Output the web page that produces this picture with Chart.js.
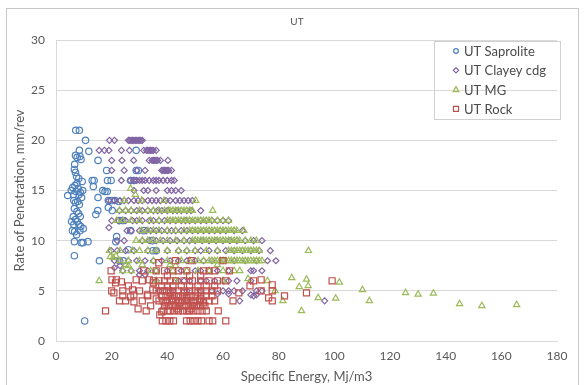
<!DOCTYPE html>
<html>
<head>
<meta charset="utf-8">
<script src="https://cdn.jsdelivr.net/npm/chart.js@4/dist/chart.umd.min.js"></script>
<style>
  body { margin: 0; background: #fff; }
  #wrap { width: 585px; height: 385px; }
</style>
</head>
<body>
<div id="wrap"><canvas id="chart" width="585" height="385"></canvas></div>
<script>
// series names and tick setup
const seriesNames = ['UT Saprolite', 'UT Clayey cdg', 'UT MG', 'UT Rock'];
const seriesColors = ['#4F81BD', '#8064A2', '#9BBB59', '#C0504D'];
const xTicks = [0, 20, 40, 60, 80, 100, 120, 140, 160, 180];
const yTicks = [0, 5, 10, 15, 20, 25, 30];

// [specific energy, rate of penetration]
const saprolite = [
  [7.1,21],[8.4,21],[10.6,20],[11.8,18.9],[8.4,19],[7,18.5],[7.6,18.3],[8.6,18.4],[9,18.1],[15.1,18],
  [18.2,17],[6.7,17.6],[6.6,17.1],[7,16.8],[7.4,16.4],[8.2,16.2],[9.4,15.9],[13,16],[13.7,16],[18.5,16],
  [19.8,16],[13.4,15.4],[16.8,15],[17.6,14.9],[18.4,14.9],[15.1,14.3],[4.2,14.5],[5.5,15],[6,15.3],[6.3,14.6],
  [6.8,15.5],[7.2,14.9],[7.5,15.7],[8,15.2],[8.3,14.6],[8.8,14.8],[9.6,15],[9.2,14.3],[6.4,14],[7,13.8],
  [7.8,13.9],[8.4,13.6],[6.6,13.2],[7.5,12.9],[8.1,12.7],[6.2,12.4],[8.7,12.4],[7,12.1],[5.6,11.9],[6.4,11.6],
  [7.6,11.9],[8.2,11.6],[8.9,11.4],[9.8,11.2],[5.9,11],[6.7,10.9],[7.4,10.6],[8.6,11],[6.6,9.9],[9.1,9.8],
  [9.7,9.8],[11.5,9.9],[6.6,8.5],[15.6,8],[10.3,2],[18.8,14],[20,14],[21.2,14],[22.6,13.9],[15,13],
  [14.3,12.6],[18.8,13.3],[20.2,13],[22.8,12],[24,12],[26.8,11],[21.8,10.4],[21.5,9.9],[26,9.1],[22.8,8],
  [24.2,8],[34.8,9],[36,9],[28.8,19],[26.8,16],[28,16],[28.8,17],[29.6,17],[31.5,11],[34.6,10]
];

const clayey = [
  [19.2,20],[21,20],[26,20],[26.5,20],[27,20],[27.5,20],[28,20],[28.5,20],[29,20],[29.5,20],[30,20],[30.5,20],[31,20],
  [15.5,19],[17.4,19],[19,19],[23.5,19],[26.4,19],[31.5,19],[32.5,19],[33,19],[33.5,19],[34,19],[34.5,19],[35,19],[36,19],
  [20,18],[23.7,18],[27.9,18],[33.5,18],[34.5,18],[35,18],[35.5,18],[36,18],[36.5,18],[37.5,18],[40.2,18],
  [20,17],[24.5,17],[29,17],[32,17],[38,17],[38.5,17],[39,17],[39.5,17],[40,17],[40.5,17],[41.5,17],
  [23.5,16],[26.7,16],[28,16],[29,16],[30,16],[31,16],[32,16],[33.5,16],[35,16],[36,16],[37,16],[38.5,16],[40,16],[41.5,16],[42.5,16],
  [28,15],[31.5,15],[33,15],[36,15],[40,15],[41.5,15],[43,15],[45,15],
  [19,14],[21,14],[23,14],[24.5,14],[26,14],[28,14],[29.5,14],[31,14],[33,14],[34.5,14],[36,14],[37.5,14],[39.5,14],[41,14],[43,14],[44.5,14],[46,14],[47.5,14],[49,14],
  [22.8,13],[25,13],[27,13],[29,13],[31,13],[33,13],[35,13],[36.5,13],[38,13],[40,13],[42,13],[43.5,13],[45,13],[47,13],[48.5,13],[52,13],
  [20,12],[22.5,12],[25,12],[27.5,12],[29,12],[31,12],[33.5,12],[35,12],[37,12],[39,12],[41,12],[43,12],[45,12],[46.5,12],[48,12],[50,12],[52,12],[54,12],[56,12],[58,12],[60,12],[62,12],
  [19,11.3],[25.5,11],[27,11],[30,11],[32.5,11],[34,11],[36,11],[38,11],[40,11],[41.5,11],[43,11],[45,11],[47,11],[49,11],[51,11],[53,11],[55,11],[57,11],[59,11],[61,11],[64,11],[67,11],
  [22,10],[24.5,10],[31,10],[33.5,10],[36,10],[38.5,10],[41,10],[43.5,10],[46,10],[48,10],[50,10],[52.5,10],[55,10],[57.5,10],[60,10],[62.5,10],[65,10],[68,10],[71,10],[74,10],
  [19.8,9],[22,9],[25,9],[28,9],[33,9],[36,9],[40,9],[44,9],[47,9],[50,9],[52,9],[55,9],[58,9],[61,9],[64,9],[67,9],[70,9],[73,9],[77,9],
  [21,8],[23,8],[26,8],[29,8],[32,8],[35,8],[38,8],[41,8],[44,8],[47,8],[50,8],[53,8],[56,8],[60,8],[64,8],[68,8],[72,8],[76,8],[79,8],
  [21,7.3],[23,7.5],[24,7],[27,7],[30,7],[33,7],[36,7],[40,7],[45,7],[50,7],[52,7],[55,7],[58,7],[62,7],[70,7],[71,7],[74,7],
  [30,6.6],[32,6.6],[36,6],[44,6],[46,6],[48,6],[52,6],[54,6],[57,6],[60,6],[62,6],[65,6],[70,6],
  [37,5],[42,5],[47,5],[52,5],[56,5],[60,5],[62,5],[64,5],[67,5],[72,5],[74,5],
  [58,4.7],[62,4.7],[70,4.6],[71,4.5],[72,4.6],[47,4],[66,4],[96.5,4]
];

const mg = [
  [26.8,15.2],[28.5,14.6],[24.5,14],[30.8,14],[38.8,14],[50.2,14],
  [22.8,13],[25,13],[27,13],[30,13],[33,13],[35,13],[37,13],[39,13],[40.5,13],[41,13],[42,13],[43,13],[44,13],[45,13],[46,13],[47,13],[48,13],[49,13],[56.3,13],
  [21.8,12],[24,12],[27,12],[30,12],[34,12],[37,12],[40,12],[41,12],[42,12],[43,12],[44,12],[45,12],[46,12],[47,12],[48,12],[49,12],[50,12],[51,12],[52,12],[53,12],[54,12],[55,12],[56,12],[58,12],[60,12],[62,12],
  [30.8,11],[33,11],[35,11],[37,11],[40,11],[43,11],[46,11],[48,11],[49,11],[50,11],[51,11],[52,11],[53,11],[54,11],[55,11],[56,11],[57,11],[58,11],[59,11],[60,11],[61,11],[62,11],[63,11],[64,11],[65,11],[67.5,11],
  [28.8,10],[31,10],[33,10],[35,10],[37.5,10],[40,10],[43,10],[46,10],[49,10],[50,10],[51,10],[52,10],[53,10],[54,10],[55,10],[56,10],[57,10],[58,10],[59,10],[60,10],[61,10],[62,10],[63,10],[64,10],[65,10],[66,10],[68,10],[70,10],[72,10],
  [19.2,9],[23,9],[27.5,9],[30,9],[33,9],[36,9],[40,9],[44,9],[47,9],[50,9],[54,9],[58,9],[62,9],[63,9],[64,9],[65,9],[66,9],[67,9],[68,9],[69,9],[70,9],[71,9],[72,9],[73,9],[90.7,9],
  [19.5,8.4],[20.5,8.3],[21.5,8.5],
  [23,8],[26,8],[30,8],[35,8],[40,8],[45,8],[48,8],[51,8],[53,8],[55,8],[56,8],[57,8],[58,8],[59,8],[60,8],[61,8],[62,8],[63,8],[64,8],[65,8],[66,8],[67,8],[68,8],[69,8],[70,8],[71,8],[72,8],[73,8],[74,8],
  [25,7.6],[26,7.5],[31,7.6],[41,7.6],[43,7.5],[58,7.6],
  [24,7],[27,7],[34,7],[36,7],[42,7],[47,7],[51,7],[55,7],[60,7],[64,7],[66,7],
  [15.5,6],[36,6],[43,6],[60,6],[69,6.2],[76,6],[84.7,6.3],[90,6.15],
  [78.7,5],[87.4,5.4],[90.6,5.5],[101.8,5.85],[110.1,5.1],[112.6,4],[94.2,4.3],[100.5,4.25],[88.2,3],[81.5,4],
  [125.6,4.8],[130.1,4.65],[135.6,4.75],[145,3.7],[153,3.5],[165.5,3.6]
];

const rock = [
  [17.8,3],[19.8,7],[20.1,6.1],[21.7,6.1],[20,5],[20.8,4.8],[21.4,5.8],[23.5,5.9],[22.8,4],[25,4],
  [24,5],[27.5,5.1],[26.8,4.4],[28,3.9],[29.5,3.2],[28.8,6.1],[31.5,7],[32.4,3],[32.8,4.6],[33.5,6.1],
  [34.8,5.1],[36.9,7.8],[37.3,2.6],[38.2,2],[39.5,2],[40.9,2],[42.2,2],[46.9,2],[48.2,2],[49.6,2],
  [51,2],[52.3,2],[55,2],[56.3,2],[61,2],[48.6,8],[42.9,8],[36,7],[39,7],[42,7],
  [44,7],[53,7],[55,7],[57,7],[60,8],[62.3,7],[73.7,6.1],[71,6],[77.7,5.6],[77.7,5],
  [73.7,5],[76.4,4.3],[77.7,4],[82.1,4.5],[90,4.8],[99.2,6],[69.7,5.5],[65.7,4.8],[63.6,4],[58.3,3],
  [30,5],[31,4],[33,4.5],[34,3.5],[31,6],[26,5.5],[24,4.5],[28,4.6],[35,5.8],[36,4.2],[38,2.9],
  [38.5,3],[40,3],[41,3],[42.5,3],[44,3],[45.5,3],[47,3],[48,3],[49.5,3],[51,3],[52.5,3],[54,3],
  [39,3.5],[40.5,3.5],[42,3.5],[43,3.5],[44.5,3.5],[46,3.5],[47.5,3.5],[49,3.5],[50.5,3.5],[52,3.5],[53.5,3.5],
  [37,4],[38.5,4],[40,4],[41.5,4],[43,4],[44,4],[45.5,4],[47,4],[48.5,4],[50,4],[51.5,4],[53,4],[55,4],[57,4],
  [38,4.5],[39.5,4.5],[41,4.5],[42.5,4.5],[44,4.5],[45.5,4.5],[47,4.5],[48.5,4.5],[50,4.5],[52,4.5],[54,4.5],[56,4.5],
  [36,5],[37.5,5],[39,5],[40.5,5],[42,5],[44,5],[46,5],[48,5],[50,5],[52,5],[54,5],[56,5],[58,5],
  [38,5.5],[40,5.5],[42,5.5],[45,5.5],[48,5.5],[51,5.5],[54,5.5],[57,5.5],
  [35,6],[37,6],[39,6],[41,6],[43,6],[46,6],[49,6],[52,6],[55,6],[58,6],[61,6],
  [40,6.5],[48,6.5],[52,6.5],[47,7],
  [39.5,3.8],[42,4.2],[44.5,3.8],[47,4.3],[49.5,3.8],[52,4.2],[41,4.8],[46,4.8],[51,4.8],[43.5,3.2],[48.5,3.2],[53,3.8]
];

const seriesData = [saprolite, clayey, mg, rock];
const pointStyles = ['circle', 'rectRot', 'triangle', 'rect'];
const pointSizes = [3.2, 3, 3.6, 4.3];

const greyText = '#595959';
const gridColor = '#D9D9D9';

// white background, outer frame and title
const framePlugin = {
  id: 'frame',
  beforeDraw(chart) {
    const ctx = chart.ctx;
    ctx.save();
    ctx.fillStyle = '#fff';
    ctx.fillRect(0, 0, chart.width, chart.height);
    ctx.restore();
  },
  afterDraw(chart) {
    const ctx = chart.ctx;
    ctx.save();
    ctx.strokeStyle = '#C8C8C8';
    ctx.lineWidth = 1;
    ctx.strokeRect(6.5, 8.5, 572, 400);
    ctx.fillStyle = greyText;
    ctx.font = '10px Lato';
    ctx.textAlign = 'center';
    ctx.textBaseline = 'middle';
    ctx.fillText('UT', 297, 22);
    ctx.restore();
  }
};

// legend box inside the plot, top right
const legendBox = {
  id: 'legendBox',
  afterDatasetsDraw(chart) {
    const ctx = chart.ctx;
    const x0 = 434, y0 = 41, w = 126, h = 78;
    ctx.save();
    ctx.strokeStyle = '#D0D0D0';
    ctx.lineWidth = 1;
    ctx.strokeRect(x0 + 0.5, y0 + 0.5, w, h);
    ctx.font = '13px Lato';
    ctx.textBaseline = 'middle';
    seriesNames.forEach((name, i) => {
      const y = 51 + i * 19.3;
      const mx = 456;
      ctx.strokeStyle = seriesColors[i];
      ctx.lineWidth = 1.2;
      ctx.beginPath();
      if (i === 0) {
        ctx.arc(mx, y, 2.4, 0, Math.PI * 2);
      } else if (i === 1) {
        ctx.moveTo(mx, y - 2.6); ctx.lineTo(mx + 2.6, y); ctx.lineTo(mx, y + 2.6); ctx.lineTo(mx - 2.6, y); ctx.closePath();
      } else if (i === 2) {
        ctx.moveTo(mx, y - 3); ctx.lineTo(mx + 2.8, y + 2); ctx.lineTo(mx - 2.8, y + 2); ctx.closePath();
      } else {
        ctx.rect(mx - 2.5, y - 2.5, 5, 5);
      }
      ctx.stroke();
      ctx.fillStyle = '#4A4A4A';
      ctx.fillText(name, 464, y + 1);
    });
    ctx.restore();
  }
};

const datasets = seriesData.map((pts, i) => ({
  label: seriesNames[i],
  data: pts.map(p => ({ x: p[0], y: p[1] })),
  pointStyle: pointStyles[i],
  radius: pointSizes[i],
  borderColor: seriesColors[i],
  backgroundColor: 'rgba(255,255,255,0)',
  borderWidth: 1.2,
  order: 4 - i
}));

new Chart(document.getElementById('chart'), {
  type: 'scatter',
  data: { datasets: datasets },
  options: {
    responsive: false,
    animation: false,
    events: [],
    layout: { padding: { left: 0, right: 28, top: 40, bottom: 0 } },
    plugins: {
      legend: { display: false },
      title: { display: false },
      tooltip: { enabled: false }
    },
    scales: {
      x: {
        type: 'linear',
        min: 0,
        max: 180,
        afterBuildTicks: (scale) => { scale.ticks = xTicks.map(v => ({ value: v })); },
        afterFit: (scale) => { scale.height = 44; },
        grid: { display: false, drawTicks: false },
        border: { display: true, color: gridColor, width: 1 },
        ticks: { color: greyText, font: { family: 'Lato', size: 12 }, padding: 8, maxRotation: 0 },
        title: {
          display: true,
          text: 'Specific Energy, Mj/m3',
          color: greyText,
          font: { family: 'Lato', size: 13 },
          padding: { top: 0, bottom: 0 }
        }
      },
      y: {
        type: 'linear',
        min: 0,
        max: 30,
        afterBuildTicks: (scale) => { scale.ticks = yTicks.map(v => ({ value: v })); },
        afterFit: (scale) => { scale.width = 56; },
        grid: { color: gridColor, drawTicks: false },
        border: { display: true, color: gridColor, width: 1 },
        ticks: { color: greyText, font: { family: 'Lato', size: 12 }, padding: 11 },
        title: {
          display: true,
          text: 'Rate of Penetration, mm/rev',
          color: greyText,
          font: { family: 'Lato', size: 13 },
          padding: { top: 12, bottom: 0 }
        }
      }
    }
  },
  plugins: [framePlugin, legendBox]
});
</script>
</body>
</html>
